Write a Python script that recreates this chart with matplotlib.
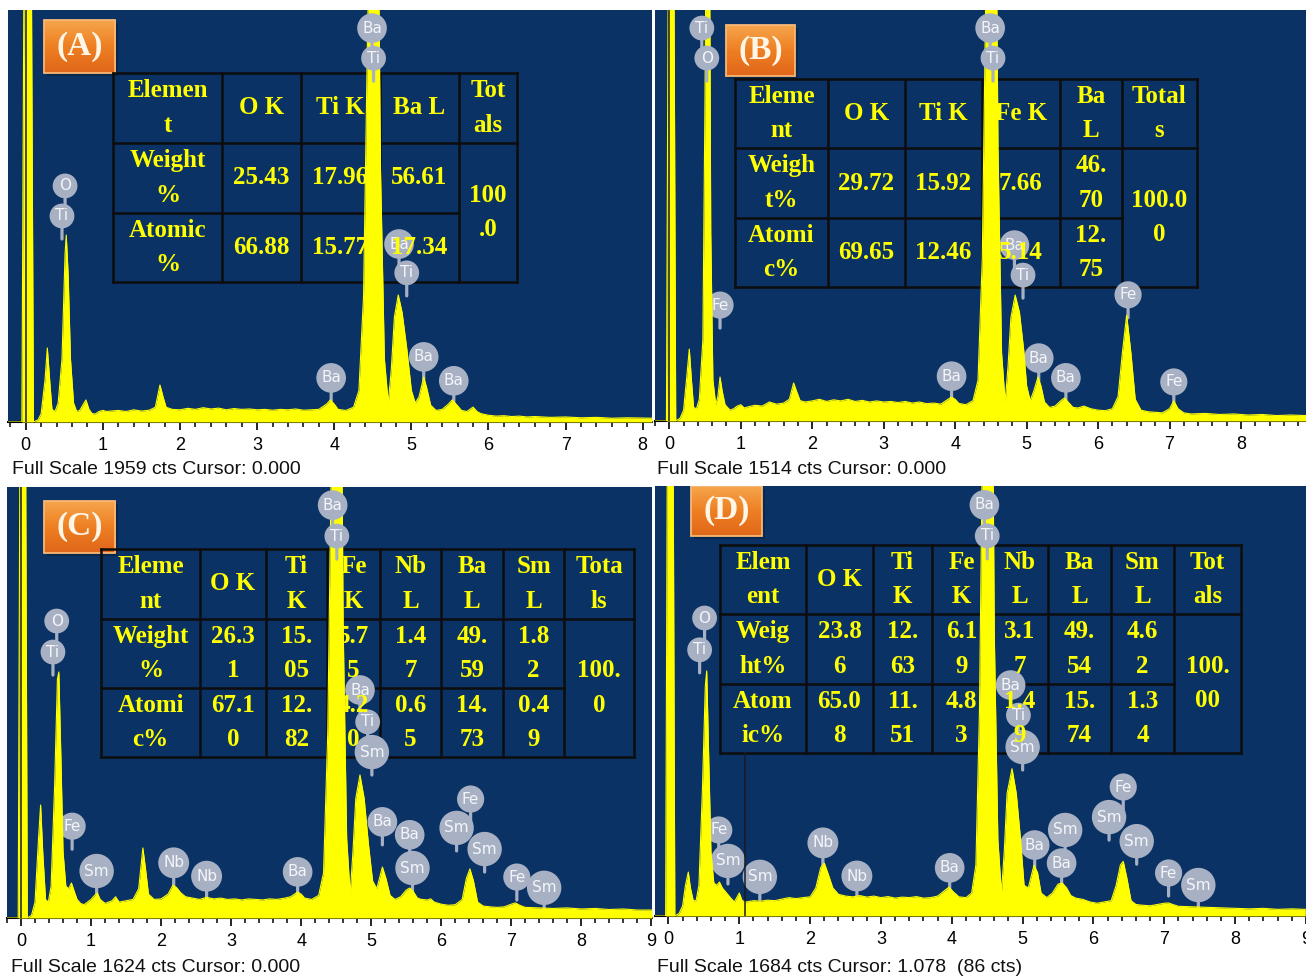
import numpy as np
import matplotlib.pyplot as plt
from matplotlib.patches import Rectangle
from matplotlib.colors import LinearSegmentedColormap
from matplotlib.ticker import MultipleLocator

W, H = 1306, 977
NAVY = '#0a3264'
YELLOW = '#ffff00'
TAG = '#a8b1c3'
GRID = '#0d0d0d'

# ---- spectra (energy in keV, counts) ----
energy_a = [-0.23, -0.05, -0.02, 0.07, 0.10, 0.16, 0.20, 0.25, 0.28, 0.31, 0.34, 0.38, 0.42, 0.47,
            0.51, 0.525, 0.55, 0.58, 0.62, 0.66, 0.70, 0.74, 0.78, 0.82, 0.86, 0.90, 0.95, 1.00,
            1.05, 1.10, 1.20, 1.30, 1.40, 1.50, 1.60, 1.68, 1.74, 1.78, 1.82, 1.90, 2.00, 2.10,
            2.20, 2.30, 2.40, 2.50, 2.60, 2.70, 2.80, 2.90, 3.00, 3.10, 3.20, 3.30, 3.40, 3.50,
            3.60, 3.70, 3.80, 3.90, 3.95, 4.00, 4.05, 4.15, 4.25, 4.32, 4.38, 4.43, 4.46, 4.57,
            4.60, 4.65, 4.70, 4.74, 4.78, 4.83, 4.88, 4.94, 5.00, 5.05, 5.10, 5.16, 5.20, 5.25,
            5.32, 5.40, 5.48, 5.53, 5.58, 5.65, 5.72, 5.80, 5.85, 5.90, 6.00, 6.10, 6.20, 6.30,
            6.40, 6.50, 6.60, 6.80, 7.00, 7.20, 7.40, 7.60, 7.80, 8.12]
counts_a = [0, 0, 2400, 2400, 0, 10, 40, 200, 352, 200, 60, 50, 90, 300,
            800, 889, 700, 300, 90, 50, 55, 80, 105, 60, 40, 38, 50, 55,
            50, 52, 55, 50, 58, 52, 56, 70, 176, 120, 70, 60, 58, 65,
            60, 68, 62, 66, 58, 64, 60, 62, 58, 60, 56, 60, 58, 62,
            56, 58, 60, 85, 105, 85, 60, 55, 70, 150, 600, 1800, 2400, 2400,
            1200, 300, 90, 250, 500, 604, 520, 350, 150, 90, 120, 214, 160, 80,
            55, 60, 85, 105, 85, 55, 50, 71, 50, 40, 32, 28, 30, 26,
            28, 24, 26, 22, 24, 20, 22, 18, 20, 18]

energy_b = [-0.20, -0.04, -0.01, 0.06, 0.09, 0.15, 0.20, 0.24, 0.28, 0.31, 0.34, 0.38, 0.42, 0.47,
            0.50, 0.52, 0.56, 0.58, 0.61, 0.65, 0.68, 0.71, 0.74, 0.78, 0.85, 0.90, 0.95, 1.00,
            1.05, 1.10, 1.20, 1.30, 1.40, 1.50, 1.60, 1.68, 1.74, 1.78, 1.83, 1.90, 2.00, 2.10,
            2.20, 2.30, 2.40, 2.50, 2.60, 2.70, 2.80, 2.90, 3.00, 3.10, 3.20, 3.30, 3.40, 3.50,
            3.60, 3.70, 3.80, 3.90, 3.95, 4.00, 4.05, 4.15, 4.25, 4.32, 4.38, 4.43, 4.46, 4.57,
            4.60, 4.65, 4.70, 4.74, 4.78, 4.84, 4.90, 4.96, 5.00, 5.05, 5.10, 5.16, 5.20, 5.25,
            5.32, 5.40, 5.48, 5.53, 5.58, 5.65, 5.72, 5.80, 5.90, 6.00, 6.10, 6.20, 6.28, 6.34,
            6.40, 6.46, 6.52, 6.60, 6.70, 6.80, 6.90, 7.00, 7.06, 7.12, 7.20, 7.30, 7.50, 7.70,
            7.90, 8.10, 8.30, 8.50, 8.70, 8.91]
counts_b = [0, 0, 2000, 2000, 0, 10, 40, 150, 265, 150, 50, 45, 80, 300,
            1200, 2000, 2000, 700, 150, 60, 90, 162, 110, 60, 40, 45, 55, 60,
            48, 52, 58, 55, 70, 62, 66, 80, 140, 110, 75, 70, 74, 80,
            72, 78, 74, 80, 72, 76, 70, 74, 70, 72, 68, 72, 66, 70,
            64, 66, 62, 80, 88, 80, 65, 60, 75, 150, 600, 1600, 2000, 2000,
            1000, 250, 70, 200, 380, 464, 400, 260, 130, 75, 110, 162, 130, 70,
            50, 55, 75, 85, 70, 50, 48, 55, 45, 40, 38, 45, 90, 250,
            390, 250, 80, 40, 34, 32, 30, 45, 74, 45, 30, 26, 28, 24,
            26, 22, 24, 20, 22, 20]

energy_c = [-0.20, -0.04, -0.01, 0.06, 0.09, 0.15, 0.20, 0.25, 0.28, 0.31, 0.35, 0.39, 0.43, 0.48,
            0.52, 0.54, 0.57, 0.60, 0.64, 0.68, 0.72, 0.76, 0.80, 0.85, 0.90, 0.95, 1.00, 1.05,
            1.09, 1.13, 1.20, 1.30, 1.35, 1.40, 1.50, 1.60, 1.68, 1.74, 1.78, 1.82, 1.90, 2.00,
            2.10, 2.17, 2.22, 2.28, 2.35, 2.45, 2.55, 2.65, 2.75, 2.85, 2.95, 3.05, 3.15, 3.25,
            3.35, 3.45, 3.55, 3.65, 3.75, 3.85, 3.95, 4.00, 4.05, 4.15, 4.25, 4.32, 4.38, 4.43,
            4.46, 4.57, 4.60, 4.65, 4.70, 4.74, 4.78, 4.84, 4.90, 4.96, 5.02, 5.08, 5.16, 5.21,
            5.27, 5.34, 5.42, 5.50, 5.55, 5.60, 5.66, 5.72, 5.80, 5.85, 5.90, 6.00, 6.10, 6.20,
            6.30, 6.36, 6.41, 6.46, 6.52, 6.60, 6.70, 6.80, 6.90, 7.00, 7.06, 7.12, 7.20, 7.40,
            7.60, 7.80, 8.00, 8.20, 8.40, 8.60, 8.80, 9.01]
counts_c = [0, 0, 2200, 2200, 0, 10, 60, 300, 426, 250, 70, 60, 120, 500,
            900, 927, 600, 250, 120, 110, 132, 100, 70, 55, 50, 60, 70, 85,
            94, 70, 55, 65, 80, 60, 65, 70, 110, 264, 180, 90, 70, 72,
            90, 124, 115, 95, 80, 75, 70, 78, 72, 75, 70, 72, 68, 72,
            70, 68, 72, 70, 74, 80, 98, 90, 75, 70, 85, 170, 700, 1700,
            2200, 2200, 1100, 300, 90, 250, 450, 539, 450, 280, 140, 110, 192, 150,
            85, 70, 80, 105, 113, 100, 75, 70, 68, 72, 60, 52, 48, 50,
            70, 150, 185, 140, 60, 45, 42, 40, 42, 52, 57, 48, 40, 38,
            36, 38, 34, 36, 32, 34, 30, 30]

energy_d = [-0.19, -0.04, -0.01, 0.06, 0.09, 0.15, 0.20, 0.24, 0.28, 0.31, 0.35, 0.39, 0.43, 0.48,
            0.52, 0.54, 0.57, 0.60, 0.64, 0.68, 0.72, 0.76, 0.82, 0.88, 0.93, 0.97, 1.00, 1.04,
            1.10, 1.20, 1.30, 1.40, 1.50, 1.60, 1.70, 1.80, 1.90, 2.00, 2.08, 2.15, 2.20, 2.26,
            2.32, 2.40, 2.50, 2.60, 2.70, 2.80, 2.90, 3.00, 3.10, 3.20, 3.30, 3.40, 3.50, 3.60,
            3.70, 3.80, 3.90, 3.96, 4.02, 4.10, 4.20, 4.28, 4.34, 4.39, 4.43, 4.46, 4.57, 4.60,
            4.65, 4.70, 4.74, 4.78, 4.85, 4.91, 4.97, 5.02, 5.08, 5.16, 5.21, 5.26, 5.34, 5.42,
            5.50, 5.56, 5.62, 5.68, 5.75, 5.85, 5.95, 6.05, 6.15, 6.25, 6.32, 6.38, 6.42, 6.47,
            6.53, 6.60, 6.70, 6.80, 6.90, 7.00, 7.06, 7.12, 7.20, 7.40, 7.60, 7.80, 8.00, 8.20,
            8.40, 8.60, 8.80, 8.99]
counts_d = [0, 0, 2300, 2300, 0, 10, 40, 120, 172, 110, 60, 60, 120, 500,
            900, 960, 600, 250, 130, 120, 133, 110, 90, 70, 55, 75, 90, 60,
            55, 60, 58, 62, 60, 66, 72, 68, 72, 75, 110, 190, 207, 160,
            110, 85, 78, 75, 80, 74, 78, 72, 76, 70, 74, 72, 76, 70,
            72, 78, 100, 113, 95, 75, 72, 90, 200, 800, 1800, 2300, 2300, 1100,
            300, 90, 250, 480, 577, 480, 300, 120, 110, 199, 170, 90, 72, 90,
            125, 129, 110, 80, 70, 65, 55, 50, 55, 60, 120, 200, 214, 150,
            60, 45, 42, 40, 45, 50, 51, 45, 38, 36, 34, 32, 30, 28,
            30, 26, 28, 26]

full_scale = [1959, 1514, 1624, 1684]
cursor_text = ['0.000', '0.000', '0.000', '1.078  (86 cts)']
cursor_kev = [0.0, 0.0, 0.0, 1.078]
letters = ['(A)', '(B)', '(C)', '(D)']

# peak identification tags: (element, energy, height as fraction of panel)
tags_a = [('Ba', 4.49, 0.956), ('Ti', 4.51, 0.883), ('O', 0.51, 0.573), ('Ti', 0.47, 0.50),
          ('Ba', 4.84, 0.432), ('Ti', 4.94, 0.362), ('Ba', 3.96, 0.107), ('Ba', 5.16, 0.158),
          ('Ba', 5.55, 0.10)]
tags_b = [('Ti', 0.455, 0.956), ('O', 0.525, 0.883), ('Ba', 4.49, 0.956), ('Ti', 4.53, 0.883),
          ('Fe', 0.71, 0.282), ('Ba', 3.95, 0.109), ('Ba', 4.83, 0.428), ('Ti', 4.95, 0.355),
          ('Ba', 5.17, 0.153), ('Ba', 5.55, 0.105), ('Fe', 6.42, 0.307), ('Fe', 7.06, 0.095)]
tags_c = [('Ba', 4.45, 0.958), ('Ti', 4.51, 0.886), ('O', 0.51, 0.689), ('Ti', 0.456, 0.617),
          ('Fe', 0.73, 0.213), ('Sm', 1.08, 0.109), ('Nb', 2.18, 0.128), ('Nb', 2.65, 0.097),
          ('Ba', 3.95, 0.107), ('Ba', 4.84, 0.529), ('Ti', 4.95, 0.455), ('Sm', 5.01, 0.385),
          ('Ba', 5.16, 0.223), ('Ba', 5.55, 0.193), ('Sm', 5.59, 0.116), ('Fe', 6.42, 0.276),
          ('Sm', 6.22, 0.209), ('Sm', 6.62, 0.16), ('Fe', 7.08, 0.095), ('Sm', 7.47, 0.07)]
tags_d = [('Ba', 4.46, 0.956), ('Ti', 4.50, 0.884), ('O', 0.51, 0.693), ('Ti', 0.44, 0.619),
          ('Fe', 0.71, 0.20), ('Sm', 0.84, 0.128), ('Sm', 1.29, 0.091), ('Nb', 2.18, 0.17),
          ('Nb', 2.66, 0.093), ('Ba', 3.97, 0.112), ('Ba', 4.83, 0.537), ('Ti', 4.94, 0.467),
          ('Sm', 5.00, 0.393), ('Ba', 5.17, 0.165), ('Sm', 5.60, 0.20), ('Ba', 5.55, 0.123),
          ('Fe', 6.42, 0.30), ('Sm', 6.22, 0.23), ('Sm', 6.61, 0.174), ('Fe', 7.06, 0.10),
          ('Sm', 7.48, 0.072)]

# composition tables
head_a = ['Elemen\nt', 'O K', 'Ti K', 'Ba L', 'Tot\nals']
weight_a = ['Weight\n%', '25.43', '17.96', '56.61']
atomic_a = ['Atomic\n%', '66.88', '15.77', '17.34']
total_a = '100\n.0'

head_b = ['Eleme\nnt', 'O K', 'Ti K', 'Fe K', 'Ba\nL', 'Total\ns']
weight_b = ['Weigh\nt%', '29.72', '15.92', '7.66', '46.\n70']
atomic_b = ['Atomi\nc%', '69.65', '12.46', '5.14', '12.\n75']
total_b = '100.0\n0'

head_c = ['Eleme\nnt', 'O K', 'Ti\nK', 'Fe\nK', 'Nb\nL', 'Ba\nL', 'Sm\nL', 'Tota\nls']
weight_c = ['Weight\n%', '26.3\n1', '15.\n05', '5.7\n5', '1.4\n7', '49.\n59', '1.8\n2']
atomic_c = ['Atomi\nc%', '67.1\n0', '12.\n82', '4.2\n0', '0.6\n5', '14.\n73', '0.4\n9']
total_c = '100.\n0'

head_d = ['Elem\nent', 'O K', 'Ti\nK', 'Fe\nK', 'Nb\nL', 'Ba\nL', 'Sm\nL', 'Tot\nals']
weight_d = ['Weig\nht%', '23.8\n6', '12.\n63', '6.1\n9', '3.1\n7', '49.\n54', '4.6\n2']
atomic_d = ['Atom\nic%', '65.0\n8', '11.\n51', '4.8\n3', '1.4\n9', '15.\n74', '1.3\n4']
total_d = '100.\n00'

orange = LinearSegmentedColormap.from_list('orange', ['#f6a54c', '#ee7f22', '#e0661a'])

fig = plt.figure(figsize=(W / 100, H / 100), dpi=100)
fig.patch.set_facecolor('white')


def panel(box, xlim, energy, counts, fs, tags, table, cols, rows, letter, lbox,
          caption, cap_xy, cur_e, cur_top, nmax):
    l, t, r, b = box
    ax = fig.add_axes([l / W, 1 - b / H, (r - l) / W, (b - t) / H])
    ax.set_facecolor(NAVY)

    def fx(x):
        return (x - l) / (r - l)

    def fy(y):
        return (b - y) / (b - t)

    def dx(x):
        return xlim[0] + fx(x) * (xlim[1] - xlim[0])

    def dy(y):
        return fy(y) * fs

    ax.fill_between(energy, counts, 0, color=YELLOW, lw=0, zorder=3)
    ax.plot(energy, counts, color=YELLOW, lw=0.8, zorder=3)
    ax.axvline(cur_e, ymin=0, ymax=cur_top, color='#1a1a22', lw=1.1, zorder=3.2)

    # orange sample label with a soft shadow and vertical gradient
    x0, y0, x1, y1 = lbox
    ax.add_patch(Rectangle((fx(x0) + 3 / (r - l), fy(y1) - 3 / (b - t)),
                           fx(x1) - fx(x0), fy(y0) - fy(y1), transform=ax.transAxes,
                           fc='#06203f', ec='none', alpha=0.6, zorder=1.4))
    grad = np.linspace(0, 1, 64).reshape(-1, 1)
    ax.imshow(grad, cmap=orange, extent=(dx(x0), dx(x1), dy(y1), dy(y0)),
              aspect='auto', origin='upper', zorder=1.5, interpolation='bilinear')
    ax.add_patch(Rectangle((fx(x0), fy(y1)), fx(x1) - fx(x0), fy(y0) - fy(y1),
                           transform=ax.transAxes, fc='none', ec='#f8b877', lw=1.3,
                           zorder=1.6))
    ax.text(fx((x0 + x1) / 2), fy((y0 + y1) / 2), letter, transform=ax.transAxes,
            ha='center', va='center', fontsize=24, fontweight='bold',
            family='Liberation Serif', color='#fff6e8', zorder=6)

    # table grid
    head, weight, atomic, total = table
    kw = dict(transform=ax.transAxes, color=GRID, lw=1.8, zorder=2, clip_on=False,
              solid_capstyle='projecting')
    for c in cols:
        ax.plot([fx(c), fx(c)], [fy(rows[0]), fy(rows[-1])], **kw)
    for rr in (rows[0], rows[1], rows[3]):
        ax.plot([fx(cols[0]), fx(cols[-1])], [fy(rr), fy(rr)], **kw)
    ax.plot([fx(cols[0]), fx(cols[-2])], [fy(rows[2]), fy(rows[2])], **kw)

    gap = 17.3 / (b - t)

    def cell(s, cx, cy):
        lines = s.split('\n')
        n = len(lines)
        for i, line in enumerate(lines):
            off = ((n - 1) / 2 - i) * gap
            ax.text(fx(cx), fy(cy) + 2 * off, line, transform=ax.transAxes,
                    ha='center', va='center', fontsize=18, fontweight='bold',
                    family='Liberation Serif', color=YELLOW, zorder=2.5)

    for j, s in enumerate(head):
        cell(s, (cols[j] + cols[j + 1]) / 2, (rows[0] + rows[1]) / 2)
    for j, s in enumerate(weight):
        cell(s, (cols[j] + cols[j + 1]) / 2, (rows[1] + rows[2]) / 2)
    for j, s in enumerate(atomic):
        cell(s, (cols[j] + cols[j + 1]) / 2, (rows[2] + rows[3]) / 2)
    cell(total, (cols[-2] + cols[-1]) / 2, (rows[1] + rows[3]) / 2)

    # element tags: the ones on top of the clipped peaks sit above the spectrum,
    # the rest sit under the table text as in the source screenshots
    tr = ax.get_xaxis_transform()
    for sym, e, h in tags:
        z = 4 if h > 0.8 else 2.3
        ax.annotate('', xy=(e, h), xycoords=tr, xytext=(0, -23), textcoords='offset pixels',
                    arrowprops=dict(arrowstyle='-', color=TAG, lw=2.3, shrinkA=0, shrinkB=0),
                    zorder=z - 0.1)
    for sym, e, h in tags:
        z = 4 if h > 0.8 else 2.3
        ax.text(e, h, sym, transform=tr, ha='center', va='center', fontsize=11,
                color='#f3f5f9', zorder=z,
                bbox=dict(boxstyle='circle,pad=0.32', fc=TAG, ec='none'))

    ax.set_xlim(*xlim)
    ax.set_ylim(0, fs)
    ax.set_xticks(range(0, nmax + 1))
    ax.xaxis.set_minor_locator(MultipleLocator(0.2))
    ax.tick_params(axis='x', which='major', direction='out', length=6, width=1.2,
                   labelsize=13, pad=5)
    ax.tick_params(axis='x', which='minor', direction='out', length=3.5, width=1.1)
    for lab in ax.get_xticklabels():
        lab.set_family('Liberation Sans')
    ax.set_yticks([])
    for side in ('top', 'left', 'right'):
        ax.spines[side].set_visible(False)
    ax.spines['bottom'].set_linewidth(1.5)
    ax.spines['bottom'].set_color('black')

    ax.text(fx(cap_xy[0]), fy(cap_xy[1]), f'Full Scale {fs} cts Cursor: {caption}',
            transform=ax.transAxes, ha='left', va='center', fontsize=14,
            family='Liberation Sans', color='#111111', clip_on=False)
    return ax


panel((8, 10, 652, 422), (-0.23, 8.12), energy_a, counts_a, full_scale[0], tags_a,
      (head_a, weight_a, atomic_a, total_a), [113, 222, 301, 380, 459, 517], [73, 143, 213, 282],
      letters[0], (44, 20, 115, 73), cursor_text[0], (12, 470), cursor_kev[0], 1.0, 8)

panel((655, 10, 1306, 421), (-0.20, 8.91), energy_b, counts_b, full_scale[1], tags_b,
      (head_b, weight_b, atomic_b, total_b), [735, 828, 905, 982, 1060, 1122, 1197],
      [79, 148, 218, 287], letters[1], (726, 25, 795, 76), cursor_text[1], (657, 470),
      cursor_kev[1], 1.0, 8)

panel((7, 487, 652, 918), (-0.20, 9.01), energy_c, counts_c, full_scale[2], tags_c,
      (head_c, weight_c, atomic_c, total_c), [101, 200, 266, 327, 380, 441, 503, 564, 634],
      [549, 619, 688, 757], letters[2], (44, 501, 115, 553), cursor_text[2], (11, 967),
      cursor_kev[2], 1.0, 9)

panel((655, 486, 1306, 916), (-0.19, 9.0), energy_d, counts_d, full_scale[3], tags_d,
      (head_d, weight_d, atomic_d, total_d), [720, 806, 873, 932, 991, 1048, 1111, 1174, 1241],
      [545, 614, 684, 753], letters[3], (691, 486, 762, 536), cursor_text[3], (657, 967),
      cursor_kev[3], (916 - 753) / 430, 9)

fig.savefig('out.png', dpi=100, facecolor='white')
